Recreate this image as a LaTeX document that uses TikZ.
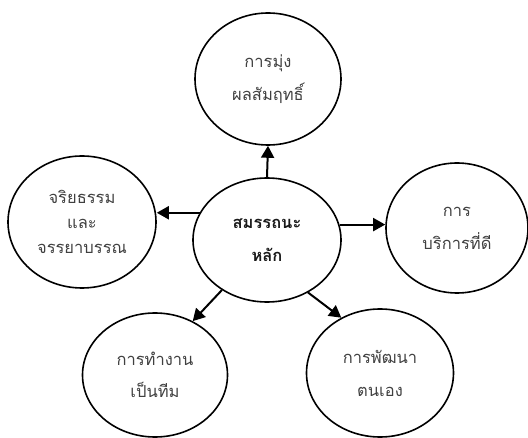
\documentclass[tikz,border=0pt]{standalone}
\usepackage{fontspec}
\newfontfamily\thai[Script=Thai]{Loma}
\usetikzlibrary{shapes.geometric,arrows.meta}
\definecolor{txtgray}{HTML}{404040}
\tikzset{
  bubble/.style={ellipse, draw=black, line width=1.6pt, inner sep=0pt,
    align=center, text=txtgray, font=\thai\fontsize{16.5}{33}\selectfont},
  hub/.style={bubble, text=black!90, font=\thai\bfseries\fontsize{16.5}{33}\selectfont},
  arr/.style={line width=2pt, -{Triangle[length=12pt,width=13pt]}}
}
\begin{document}
\begin{tikzpicture}[x=1pt,y=-1pt]
  \useasboundingbox (0,0) rectangle (528,438);
  % outer topics
  \node[bubble, minimum width=146pt, minimum height=132pt] (top) at (268,79)
    {การมุ่ง\\ผลสัมฤทธิ์};
  \node[bubble, minimum width=148pt, minimum height=132pt,
        font=\thai\fontsize{16.5}{25}\selectfont] (lft) at (82,222)
    {จริยธรรม\\และ\\จรรยาบรรณ};
  \node[bubble, minimum width=142pt, minimum height=130pt] (rgt) at (457,228)
    {การ\\บริการที่ดี};
  \node[bubble, minimum width=145pt, minimum height=124pt,
        font=\thai\fontsize{16.5}{32}\selectfont] (bl) at (155,375)
    {การทำงาน\\เป็นทีม};
  \node[bubble, minimum width=147pt, minimum height=128pt] (br) at (380,373)
    {การพัฒนา\\ตนเอง};
  % core competency
  \node[hub, minimum width=148pt, minimum height=124pt] (core) at (267,240)
    {สมรรถนะ\\หลัก};
  % connectors
  \draw[arr] (core.north) -- (top.south);
  \draw[arr] (core.158) -- (core.158 -| lft.east);
  \draw[arr] (core.12) -- (core.12 -| rgt.west);
  \draw[arr] (core.228) -- (bl.55);
  \draw[arr] (core.308) -- (br.125);
\end{tikzpicture}
\end{document}
